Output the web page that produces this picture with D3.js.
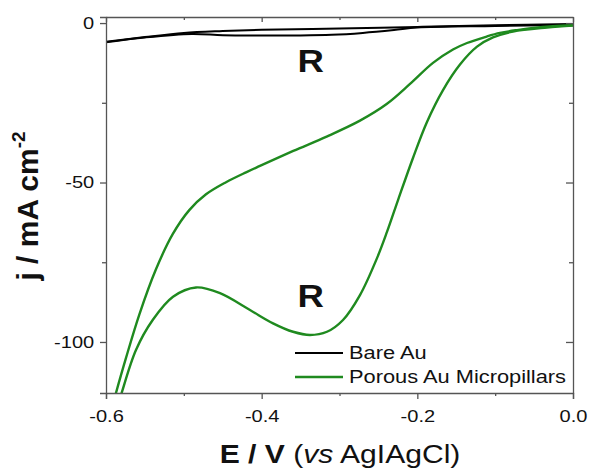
<!DOCTYPE html>
<html>
<head>
<meta charset="utf-8">
<script src="https://cdn.jsdelivr.net/npm/d3@7"></script>
<style>
  body { margin: 0; background: #fff; }
  svg text { font-family: "Liberation Sans", Arial, sans-serif; fill: #111; }
</style>
</head>
<body>
<div id="chart"></div>
<script>
// green CV, porous Au micropillars (upper branch, then the return branch)
var porousFwdE = [-0.595, -0.5872, -0.5743, -0.5572, -0.5358, -0.5143, -0.4930, -0.4715, -0.4458, -0.4201, -0.4022, -0.3594, -0.3165, -0.2737, -0.2394, -0.2094, -0.1799, -0.1542, -0.1362, -0.1105, -0.0938, -0.0719, -0.0514, -0.0257, 0];
var porousFwdJ = [-123, -116.0, -105.0, -91.4, -77.2, -66.2, -58.65, -53.7, -49.9, -46.8, -44.8, -40.1, -35.6, -30.6, -25.4, -19.1, -12.5, -8.3, -6.25, -4.2, -3.1, -2.2, -1.55, -1.0, -0.7];
var porousRevE = [0, -0.0334, -0.0771, -0.1028, -0.1233, -0.1452, -0.1670, -0.1876, -0.2056, -0.2248, -0.2390, -0.2518, -0.2737, -0.2955, -0.3161, -0.3379, -0.3597, -0.3854, -0.4150, -0.4535, -0.4843, -0.5139, -0.5400, -0.5615, -0.5807, -0.590];
var porousRevJ = [-0.8, -1.4, -2.65, -4.5, -7.4, -13.0, -21.0, -31.0, -42.3, -55.5, -65.5, -73.7, -85.3, -93.1, -96.8, -97.8, -96.8, -94.15, -90.0, -84.7, -82.9, -85.8, -93.1, -102.5, -116.6, -124];

// black CV, bare Au
var bareFwdE = [-0.6, -0.55, -0.5, -0.45, -0.4, -0.3, -0.2, -0.1, 0];
var bareFwdJ = [-5.9, -4.4, -3.1, -2.5, -2.1, -1.7, -1.2, -0.7, -0.3];
var bareRevE = [0, -0.1, -0.2, -0.23, -0.27, -0.31, -0.35, -0.4, -0.45, -0.49, -0.55, -0.6];
var bareRevJ = [-0.5, -0.9, -1.4, -2.2, -3.1, -3.7, -3.9, -3.9, -3.8, -3.4, -4.5, -6.0];

var xTicks = [-0.6, -0.4, -0.2, 0.0];
var xMinor = [-0.5, -0.3, -0.1];
var yTicks = [0, -50, -100];
var yMinor = [-25, -75];
var legendNames = ["Bare Au", "Porous Au Micropillars"];
var peakLabels = [{t: "R", e: -0.337, j: -15.3}, {t: "R", e: -0.337, j: -89.0}];

var width = 589, height = 471;
var margin = {top: 17, right: 16, bottom: 78, left: 106};
var stretch = "scale(1.18,1)";
var axisCol = "#555";
var green = "#1f8a1f";

var svg = d3.select("#chart").append("svg")
    .attr("width", width)
    .attr("height", height);

var x = d3.scaleLinear().domain([-0.6, 0]).range([margin.left, width - margin.right]);
var y = d3.scaleLinear().domain([1.9, -116]).range([margin.top, height - margin.bottom]);

svg.append("clipPath").attr("id", "plotclip")
  .append("rect")
    .attr("x", x(-0.6)).attr("y", y(1.9))
    .attr("width", x(0) - x(-0.6)).attr("height", y(-116) - y(1.9));

function pairs(es, js){ return es.map(function(e,i){ return [e, js[i]]; }); }

var line = d3.line()
    .x(function(d){ return x(d[0]); })
    .y(function(d){ return y(d[1]); })
    .curve(d3.curveCatmullRom.alpha(0.5));

var plot = svg.append("g").attr("clip-path", "url(#plotclip)");

[pairs(bareFwdE, bareFwdJ), pairs(bareRevE, bareRevJ)].forEach(function(d){
  plot.append("path").datum(d)
    .attr("d", line).attr("fill", "none")
    .attr("stroke", "#000").attr("stroke-width", 2);
});
[pairs(porousFwdE, porousFwdJ), pairs(porousRevE, porousRevJ)].forEach(function(d){
  plot.append("path").datum(d)
    .attr("d", line).attr("fill", "none")
    .attr("stroke", green).attr("stroke-width", 2.4);
});

// axes
function styleAxis(g){
  g.selectAll("path, line").attr("stroke", axisCol).attr("stroke-width", 1.3);
  g.selectAll("text").attr("font-size", 17).attr("fill", "#111")
    .attr("font-family", "Liberation Sans, Arial, sans-serif");
}
var fmtX = function(d){ return d === 0 ? "0.0" : d3.format(".1f")(d).replace("−", "-"); };
var fmtY = function(d){ return String(d); };

var gx = svg.append("g").attr("transform", "translate(0," + y(-116) + ")")
  .call(d3.axisBottom(x).tickValues(xTicks).tickFormat(fmtX).tickSize(6).tickPadding(11));
gx.call(styleAxis);
gx.selectAll(".tick text").attr("transform", stretch);
svg.append("g").attr("transform", "translate(0," + y(-116) + ")")
  .call(d3.axisBottom(x).tickValues(xMinor).tickFormat("").tickSize(3)).call(styleAxis)
  .select(".domain").remove();

var gy = svg.append("g").attr("transform", "translate(" + x(-0.6) + ",0)")
  .call(d3.axisLeft(y).tickValues(yTicks).tickFormat(fmtY).tickSize(6).tickPadding(4));
gy.call(styleAxis);
gy.selectAll(".tick text").attr("transform", stretch);
svg.append("g").attr("transform", "translate(" + x(-0.6) + ",0)")
  .call(d3.axisLeft(y).tickValues(yMinor).tickFormat("").tickSize(4)).call(styleAxis)
  .select(".domain").remove();

// mirrored top and right axes, ticks inward
svg.append("g").attr("transform", "translate(0," + y(1.9) + ")")
  .call(d3.axisBottom(x).tickValues(xTicks).tickFormat("").tickSizeInner(5).tickSizeOuter(0))
  .call(styleAxis);
svg.append("g").attr("transform", "translate(0," + y(1.9) + ")")
  .call(d3.axisBottom(x).tickValues(xMinor).tickFormat("").tickSize(3)).call(styleAxis)
  .select(".domain").remove();
svg.append("g").attr("transform", "translate(" + x(0) + ",0)")
  .call(d3.axisLeft(y).tickValues(yTicks).tickFormat("").tickSizeInner(7).tickSizeOuter(0))
  .call(styleAxis);
svg.append("g").attr("transform", "translate(" + x(0) + ",0)")
  .call(d3.axisLeft(y).tickValues(yMinor).tickFormat("").tickSize(4)).call(styleAxis)
  .select(".domain").remove();

// peak labels
peakLabels.forEach(function(p){
  svg.append("g").attr("transform", "translate(" + x(p.e) + "," + y(p.j) + ")")
    .append("text").attr("transform", stretch)
    .attr("text-anchor", "middle")
    .attr("font-size", 31).attr("font-weight", "bold")
    .text(p.t);
});

// legend
var legCol = ["#000", green];
legendNames.forEach(function(n, i){
  var ly = 353 + i * 24;
  svg.append("line").attr("x1", 295).attr("x2", 343).attr("y1", ly).attr("y2", ly)
    .attr("stroke", legCol[i]).attr("stroke-width", i ? 2.4 : 2);
  svg.append("g").attr("transform", "translate(349," + (ly + 6) + ")")
    .append("text").attr("transform", stretch)
    .attr("font-size", 18.5).text(n);
});

// axis titles
var xt = svg.append("g").attr("transform", "translate(340,463)")
  .append("text").attr("transform", stretch).attr("text-anchor", "middle").attr("font-size", 25.5);
xt.append("tspan").attr("font-weight", "bold").text("E / V ");
xt.append("tspan").text("(");
xt.append("tspan").attr("font-style", "italic").text("vs");
xt.append("tspan").text(" AgIAgCl)");

var yt = svg.append("g").attr("transform", "translate(38,206) rotate(-90)")
  .append("text").attr("text-anchor", "middle").attr("font-size", 30).attr("font-weight", "bold");
yt.append("tspan").text("j / mA cm");
yt.append("tspan").attr("font-size", 19).attr("dy", -13).text("-2");
</script>
</body>
</html>
